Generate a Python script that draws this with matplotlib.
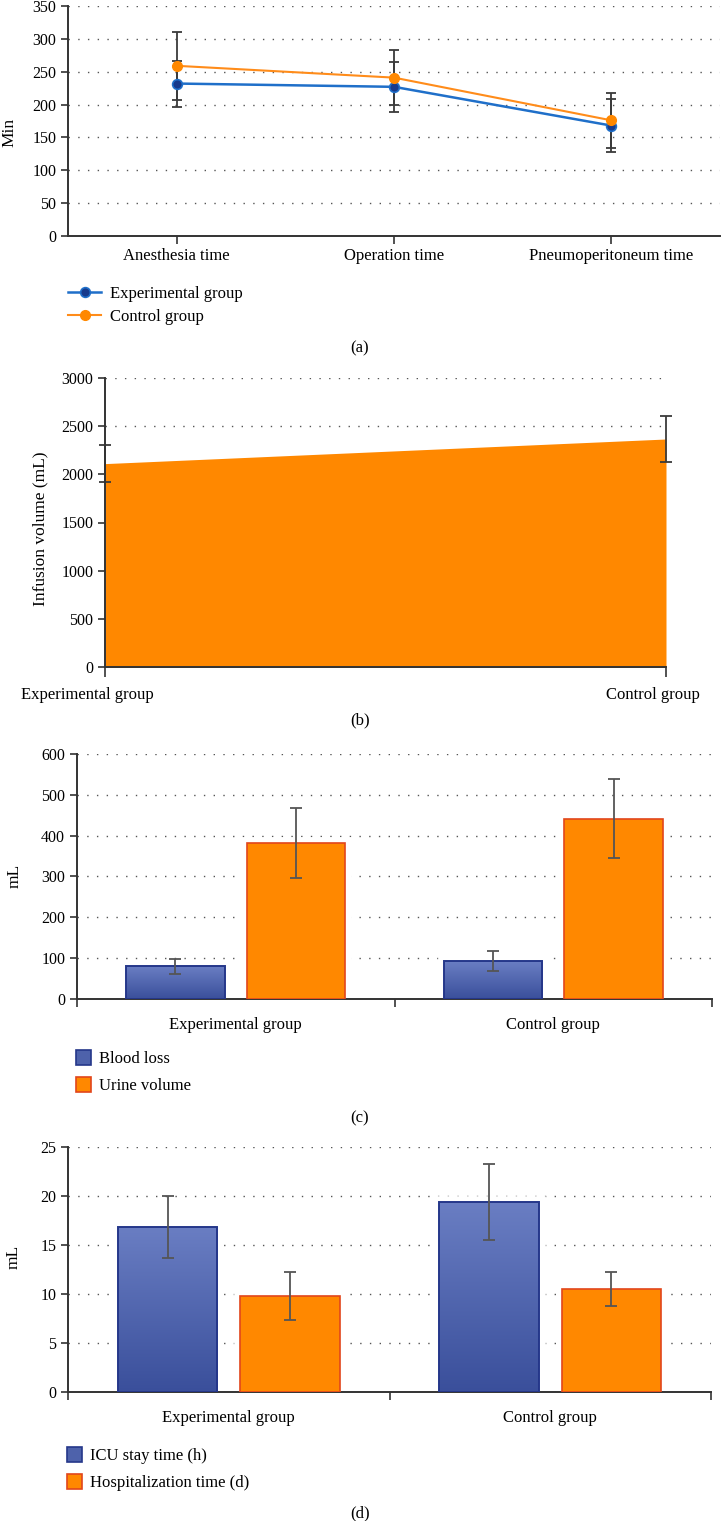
import numpy as np
import matplotlib
matplotlib.use("Agg")
import matplotlib.pyplot as plt
import matplotlib.transforms as mtrans
from matplotlib.colors import LinearSegmentedColormap
from matplotlib.patches import Patch

# ---------------- data ----------------
time_categories = ["Anesthesia time", "Operation time", "Pneumoperitoneum time"]
exp_time = [232, 227, 168]
exp_time_sd = [35, 38, 40]
ctrl_time = [259, 241, 176]
ctrl_time_sd = [52, 42, 42]

groups = ["Experimental group", "Control group"]
infusion = [2110, 2365]
infusion_sd = [188, 240]

blood_loss = [80, 93]
blood_loss_sd = [18.5, 24.5]
urine_volume = [382, 441]
urine_volume_sd = [86, 97]

icu_stay = [16.8, 19.4]
icu_stay_sd = [3.15, 3.85]
hosp_time = [9.8, 10.5]
hosp_time_sd = [2.4, 1.75]

# ---------------- style ----------------
plt.rcParams['font.family'] = ['Liberation Serif', 'DejaVu Serif']
W, H = 721, 1521
fig = plt.figure(figsize=(W / 100, H / 100), dpi=100)

SPINE = "#333333"
GRID = "#555555"
ORANGE = "#FF8800"
ORANGE_EDGE = "#E2461B"
BLUE_TOP = "#6A7EC3"
BLUE_BOT = "#3A4F9B"
BLUE_EDGE = "#25378A"
ERR = "#555555"
TICK_FS = 11.5
LAB_FS = 12


def add_axes_px(left, right, top, bottom):
    return fig.add_axes([left / W, 1 - bottom / H, (right - left) / W, (bottom - top) / H])


def style_axes(ax):
    for s in ["top", "right"]:
        ax.spines[s].set_visible(False)
    for s in ["left", "bottom"]:
        ax.spines[s].set_color(SPINE)
        ax.spines[s].set_linewidth(1.4)
    ax.tick_params(axis="both", colors=SPINE, labelcolor="black", labelsize=TICK_FS,
                   width=1.2, length=5, direction="out")
    ax.yaxis.grid(True, linestyle=(0, (1, 6)), color=GRID, linewidth=1.0)
    ax.set_axisbelow(True)


def fig_text(x, y, s, **kw):
    fig.text(x / W, 1 - y / H, s, **kw)


def ylabel_at(ax, text, center_px, left_px, right_px, yfrac=0.5, fs=12.5):
    ax.set_ylabel(text, fontsize=fs)
    # ylabel anchor is its right edge (va='bottom' rotated); text height ~ 14 px
    ax.yaxis.set_label_coords(-(left_px - (center_px + 7)) / (right_px - left_px), yfrac)


def gradient_bars(ax, bars, top, bottom):
    cmap = LinearSegmentedColormap.from_list("g", [bottom, top])
    grad = np.linspace(0, 1, 256).reshape(-1, 1)
    for b in bars:
        x0, y0, w, h = b.get_x(), b.get_y(), b.get_width(), b.get_height()
        im = ax.imshow(grad, extent=[x0, x0 + w, y0, y0 + h], origin="lower",
                       aspect="auto", cmap=cmap, zorder=2.5)
        im.set_clip_path(b)


# ================= (a) =================
axa = add_axes_px(68, 720, 6, 236)
style_axes(axa)
xa = np.arange(len(time_categories))
axa.errorbar(xa, exp_time, yerr=exp_time_sd, fmt="none", ecolor="#3A3A3A",
             elinewidth=1.3, capsize=3.5, capthick=1.3, zorder=3)
axa.errorbar(xa, ctrl_time, yerr=ctrl_time_sd, fmt="none", ecolor="#3A3A3A",
             elinewidth=1.3, capsize=3.5, capthick=1.3, zorder=3)
line_exp, = axa.plot(xa, exp_time, color="#1F6FC9", linewidth=1.8, marker="o",
                     markersize=7, markerfacecolor="#173A8C", markeredgecolor="#1F6FC9",
                     markeredgewidth=1.2, zorder=4, label="Experimental group")
line_ctrl, = axa.plot(xa, ctrl_time, color="#FF8C1A", linewidth=1.5, marker="o",
                      markersize=7, markerfacecolor="#FF8800", markeredgecolor="#FF8800",
                      zorder=5, label="Control group")
axa.set_xlim(-0.5, 2.5)
axa.set_ylim(0, 350)
axa.set_yticks(np.arange(0, 351, 50))
axa.set_xticks(xa)
axa.set_xticklabels(time_categories, fontsize=LAB_FS)
axa.tick_params(axis="x", pad=3, length=6)
ylabel_at(axa, "Min", 10, 68, 720, yfrac=0.45)
axa.legend(handles=[line_exp, line_ctrl], loc="upper left",
           bbox_to_anchor=(68 / W, 1 - 286 / H), bbox_transform=fig.transFigure,
           frameon=False, fontsize=LAB_FS, borderaxespad=0, borderpad=0,
           handlelength=2.0, handletextpad=0.55, labelspacing=0.4)
fig_text(360, 348, "(a)", ha="center", va="center", fontsize=LAB_FS)

# ================= (b) =================
axb = add_axes_px(105, 666, 377.7, 667.3)
style_axes(axb)
xb = np.arange(len(groups))
axb.fill_between(xb, infusion, 0, color=ORANGE, linewidth=0, zorder=2)
axb.errorbar(xb, infusion, yerr=infusion_sd, fmt="none", ecolor="#3A3A3A",
             elinewidth=1.3, capsize=4, capthick=1.3, zorder=3, clip_on=False)
axb.set_xlim(0, 1)
axb.set_ylim(0, 3000)
axb.set_yticks(np.arange(0, 3001, 500))
axb.set_xticks(xb)
axb.set_xticklabels(groups, fontsize=LAB_FS)
axb.tick_params(axis="x", pad=7, length=7)
for lbl, dx in zip(axb.get_xticklabels(), [-18, -13]):
    lbl.set_transform(lbl.get_transform() + mtrans.ScaledTranslation(dx / 100, 0, fig.dpi_scale_trans))
ylabel_at(axb, "Infusion volume (mL)", 41, 105, 666, yfrac=0.48)
axb.spines["left"].set_zorder(4)
fig_text(360, 720, "(b)", ha="center", va="center", fontsize=LAB_FS)


# ================= (c) & (d) =================
def grouped_panel(ax, s1, s1sd, s2, s2sd, ymax, ystep, lab1, lab2, legend_top, legend_left):
    style_axes(ax)
    xc = np.arange(len(groups))
    off, bw = 0.19, 0.31
    # white halo interrupting gridlines
    for vals, sign in [(s1, -1), (s2, 1)]:
        ax.bar(xc + sign * off, vals, bw, color="white", edgecolor="white", linewidth=9, zorder=1.5)
    b1 = ax.bar(xc - off, s1, bw, facecolor="none", edgecolor=BLUE_EDGE, linewidth=1.4, zorder=3)
    gradient_bars(ax, b1, BLUE_TOP, BLUE_BOT)
    ax.bar(xc + off, s2, bw, color=ORANGE, edgecolor=ORANGE_EDGE, linewidth=1.2, zorder=3)
    ax.errorbar(xc - off, s1, yerr=s1sd, fmt="none", ecolor=ERR, elinewidth=1.3,
                capsize=4, capthick=1.3, zorder=4)
    ax.errorbar(xc + off, s2, yerr=s2sd, fmt="none", ecolor=ERR, elinewidth=1.3,
                capsize=4, capthick=1.3, zorder=4)
    ax.set_xlim(-0.5, 1.5)
    ax.set_ylim(0, ymax)
    ax.set_yticks(np.arange(0, ymax + 0.1, ystep))
    ax.set_xticks([-0.5, 0.5, 1.5])
    ax.set_xticklabels([])
    ax.set_xticks(xc, minor=True)
    ax.set_xticklabels(groups, minor=True, fontsize=LAB_FS)
    ax.tick_params(axis="x", which="minor", length=0, pad=13)
    ax.tick_params(axis="x", which="major", length=6)
    h1 = Patch(facecolor="#4E62AB", edgecolor=BLUE_EDGE, linewidth=1.2, label=lab1)
    h2 = Patch(facecolor=ORANGE, edgecolor=ORANGE_EDGE, linewidth=1.2, label=lab2)
    ax.legend(handles=[h1, h2], loc="upper left",
              bbox_to_anchor=(legend_left / W, 1 - legend_top / H), bbox_transform=fig.transFigure,
              frameon=False, fontsize=LAB_FS, borderaxespad=0, borderpad=0,
              handlelength=0.9, handleheight=1.0, handletextpad=0.5, labelspacing=0.6)


axc = add_axes_px(77, 712, 754, 998.7)
grouped_panel(axc, blood_loss, blood_loss_sd, urine_volume, urine_volume_sd, 600, 100,
              "Blood loss", "Urine volume", 1050, 76)
ylabel_at(axc, "mL", 16, 77, 712, yfrac=0.5)
fig_text(360, 1118, "(c)", ha="center", va="center", fontsize=LAB_FS)

axd = add_axes_px(68, 711, 1146.7, 1392.3)
grouped_panel(axd, icu_stay, icu_stay_sd, hosp_time, hosp_time_sd, 25, 5,
              "ICU stay time (h)", "Hospitalization time (d)", 1447, 67)
ylabel_at(axd, "mL", 15, 68, 711, yfrac=0.55)
fig_text(360, 1513, "(d)", ha="center", va="center", fontsize=LAB_FS)

fig.savefig("out.png", dpi=100)
